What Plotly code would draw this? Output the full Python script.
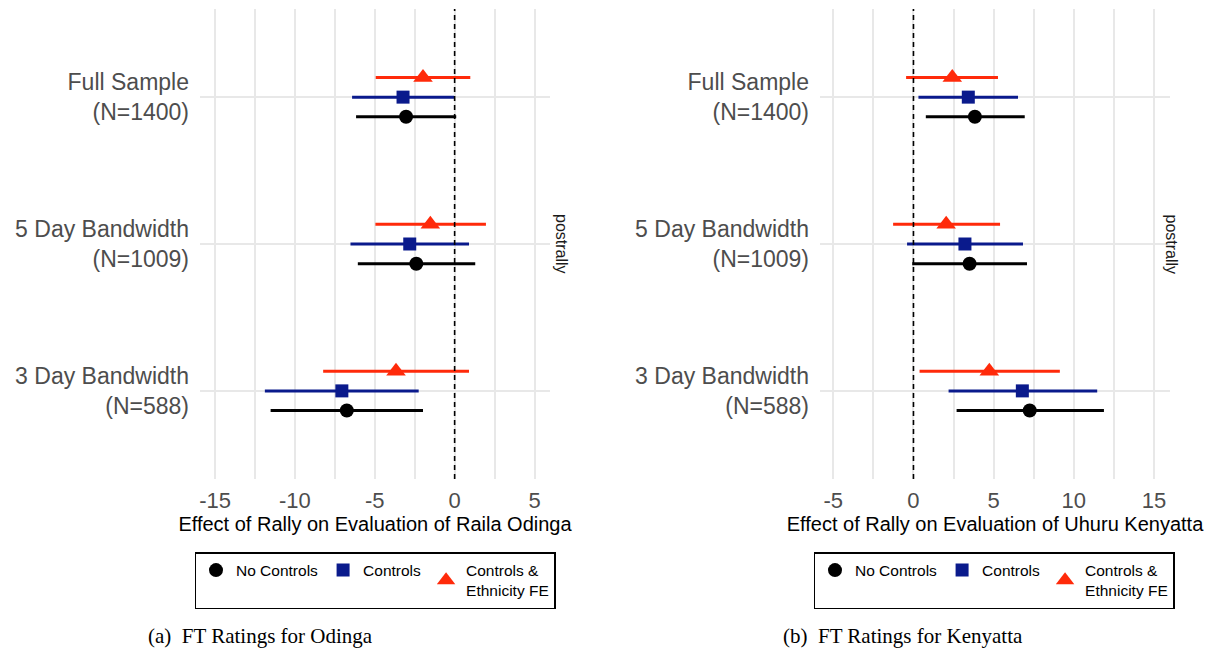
import plotly.graph_objects as go

# ---------------- data ----------------
categories = ["Full Sample<br>(N=1400)", "5 Day Bandwidth<br>(N=1009)", "3 Day Bandwidth<br>(N=588)"]
cat_pos = [3, 2, 1]
models = ["No Controls", "Controls", "Controls &<br>Ethnicity FE"]

# Odinga panel
odinga_nc_est = [-3.04, -2.40, -6.75]
odinga_nc_lo = [-6.17, -6.06, -11.52]
odinga_nc_hi = [0.10, 1.29, -1.98]
odinga_c_est = [-3.23, -2.81, -7.06]
odinga_c_lo = [-6.42, -6.52, -11.88]
odinga_c_hi = [-0.04, 0.90, -2.25]
odinga_fe_est = [-1.98, -1.52, -3.67]
odinga_fe_lo = [-4.94, -4.96, -8.23]
odinga_fe_hi = [0.98, 1.96, 0.90]

# Kenyatta panel
kenyatta_nc_est = [3.83, 3.50, 7.25]
kenyatta_nc_lo = [0.77, -0.08, 2.69]
kenyatta_nc_hi = [6.94, 7.08, 11.88]
kenyatta_c_est = [3.42, 3.21, 6.79]
kenyatta_c_lo = [0.31, -0.40, 2.19]
kenyatta_c_hi = [6.52, 6.83, 11.46]
kenyatta_fe_est = [2.42, 2.04, 4.73]
kenyatta_fe_lo = [-0.46, -1.27, 0.38]
kenyatta_fe_hi = [5.27, 5.40, 9.13]

x_ticks_left = [-15, -10, -5, 0, 5]
x_ticks_right = [-5, 0, 5, 10, 15]
ref_value = 0

# ---------------- style ----------------
colors = ["#000000", "#0A1A8C", "#FF2A0A"]
symbols = ["circle", "square", "triangle-up"]
msizes = [14, 13, 17]
dodge = [-0.134, 0.0, 0.134]
grid = "#E8E8E8"
FONT = "Liberation Sans, Arial, sans-serif"

fig = go.Figure()

panels = [
    ("x", "y", "legend",
     [(odinga_nc_est, odinga_nc_lo, odinga_nc_hi),
      (odinga_c_est, odinga_c_lo, odinga_c_hi),
      (odinga_fe_est, odinga_fe_lo, odinga_fe_hi)]),
    ("x2", "y2", "legend2",
     [(kenyatta_nc_est, kenyatta_nc_lo, kenyatta_nc_hi),
      (kenyatta_c_est, kenyatta_c_lo, kenyatta_c_hi),
      (kenyatta_fe_est, kenyatta_fe_lo, kenyatta_fe_hi)]),
]

for xa, ya, leg, series in panels:
    for i, (est, lo, hi) in enumerate(series):
        fig.add_trace(go.Scatter(
            x=est,
            y=[p + dodge[i] for p in cat_pos],
            mode="markers",
            name=models[i],
            xaxis=xa, yaxis=ya, legend=leg,
            marker=dict(symbol=symbols[i], size=msizes[i], color=colors[i],
                        line=dict(width=0)),
            error_x=dict(type="data", symmetric=False,
                         array=[h - e for h, e in zip(hi, est)],
                         arrayminus=[e - l for e, l in zip(est, lo)],
                         width=0, thickness=3, color=colors[i]),
        ))

W, H = 1215, 657
y_dom = [1 - 479 / H, 1 - 9 / H]
xd1 = [200 / W, 550 / W]
xd2 = [820 / W, 1170 / W]

xcommon = dict(showgrid=True, gridcolor=grid, gridwidth=1.5, zeroline=False,
               showline=False, ticks="", ticklabelstandoff=6,
               tickfont=dict(size=22, color="#4D4D4D", family=FONT),
               minor=dict(dtick=2.5, showgrid=True, gridcolor=grid, gridwidth=1.5))
ycommon = dict(range=[0.4, 3.6], tickvals=cat_pos, ticktext=categories,
               showgrid=True, gridcolor=grid, gridwidth=1.5, zeroline=False,
               ticks="", ticklabelstandoff=10,
               tickfont=dict(size=23, color="#4D4D4D", family=FONT),
               domain=y_dom)

leg_common = dict(orientation="h", xanchor="center", y=1 - 552 / H, yanchor="top",
                  bordercolor="black", borderwidth=1.5, font=dict(size=15.5, color="black"),
                  bgcolor="white", itemwidth=30, tracegroupgap=0)

fig.update_layout(
    width=W, height=H,
    margin=dict(l=0, r=0, t=0, b=0),
    paper_bgcolor="white", plot_bgcolor="white",
    font=dict(family=FONT),
    xaxis=dict(domain=xd1, range=[-15.94, 5.97], tickvals=x_ticks_left,
               ticktext=[str(v) for v in x_ticks_left], anchor="y",
               title=dict(text="Effect of Rally on Evaluation of Raila Odinga",
                          font=dict(size=20, color="black"), standoff=4),
               **xcommon),
    xaxis2=dict(domain=xd2, range=[-5.83, 16.0], tickvals=x_ticks_right,
                ticktext=[str(v) for v in x_ticks_right], anchor="y2",
                title=dict(text="Effect of Rally on Evaluation of Uhuru Kenyatta",
                           font=dict(size=20, color="black"), standoff=4),
                **xcommon),
    yaxis=dict(anchor="x", **ycommon),
    yaxis2=dict(anchor="x2", **ycommon),
    legend=dict(x=375 / W, **leg_common),
    legend2=dict(x=994 / W, **leg_common),
    showlegend=True,
)

for xr, yr in [("x", "y domain"), ("x2", "y2 domain")]:
    fig.add_shape(type="line", xref=xr, yref=yr,
                  x0=ref_value, x1=ref_value, y0=0, y1=1,
                  line=dict(color="black", width=1.6, dash="5px,4px"))

# strip labels
for xp in [562, 1182]:
    fig.add_annotation(text="postrally", xref="paper", yref="paper",
                       x=xp / W, y=1 - 244 / H, showarrow=False, textangle=90,
                       font=dict(size=16, color="#1A1A1A", family=FONT))

# captions
for xp, txt in [(260, "(a)  FT Ratings for Odinga"), (903, "(b)  FT Ratings for Kenyatta")]:
    fig.add_annotation(text=txt, xref="paper", yref="paper", x=xp / W, y=1 - 636 / H,
                       showarrow=False, xanchor="center", yanchor="middle",
                       font=dict(size=21, color="black", family="Liberation Serif, Times New Roman, serif"))

fig.write_html("out.html", config={"displayModeBar": False},
               post_script="document.body.style.margin='0';")
